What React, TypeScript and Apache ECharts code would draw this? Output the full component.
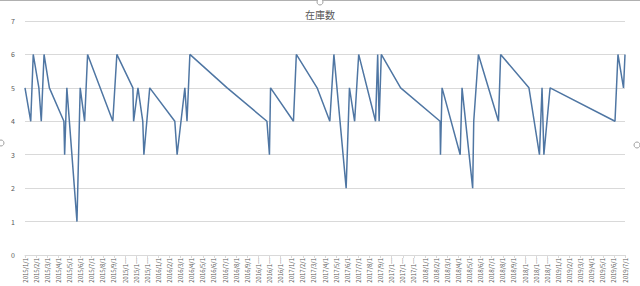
import React, { useEffect, useRef } from "react";
import * as echarts from "echarts";

const dates = [
  "2015/1/1", "2015/1/17", "2015/1/24", "2015/2/8", "2015/2/14", "2015/2/21",
  "2015/3/7", "2015/4/16", "2015/4/18", "2015/4/24", "2015/5/22", "2015/5/31",
  "2015/6/12", "2015/6/20", "2015/8/29", "2015/9/9", "2015/10/23", "2015/10/25",
  "2015/11/6", "2015/11/19", "2015/11/22", "2015/12/8", "2016/2/15", "2016/2/21",
  "2016/3/13", "2016/3/19", "2016/3/27", "2016/7/7", "2016/10/25", "2016/11/1",
  "2016/11/4", "2017/1/6", "2017/1/14", "2017/3/10", "2017/4/14", "2017/4/25",
  "2017/5/29", "2017/6/7", "2017/6/21", "2017/7/2", "2017/8/18", "2017/8/24",
  "2017/8/28", "2017/9/3", "2017/10/26", "2018/2/11", "2018/2/12", "2018/2/16",
  "2018/4/6", "2018/4/11", "2018/5/10", "2018/5/13", "2018/5/26", "2018/7/20",
  "2018/7/26", "2018/10/12", "2018/11/10", "2018/11/17", "2018/11/22", "2018/12/9",
  "2019/6/4", "2019/6/12", "2019/6/27", "2019/7/1",
];

const stock = [
  5, 4, 6, 5, 4, 6,
  5, 4, 3, 5, 1, 5,
  4, 6, 4, 6, 5, 4,
  5, 4, 3, 5, 4, 3,
  5, 4, 6, 5, 4, 3,
  5, 4, 6, 5, 4, 6,
  2, 5, 4, 6, 4, 6,
  4, 6, 5, 4, 3, 5,
  3, 5, 2, 4, 6, 4,
  6, 5, 3, 5, 3, 5,
  4, 6, 5, 6,
];

const startYear = 2015;
const monthCount = 55; // 2015/1 .. 2019/7
const tickLabels: string[] = [];
for (let i = 0; i < monthCount; i++) {
  tickLabels.push(`${startYear + Math.floor(i / 12)}/${(i % 12) + 1}/1`);
}

const yTicks = [0, 1, 2, 3, 4, 5, 6, 7];

function monthPos(d: string): number {
  const [y, m, day] = d.split("/").map(Number);
  const dim = new Date(y, m, 0).getDate();
  return (y - startYear) * 12 + (m - 1) + (day - 1) / dim;
}

export default function App() {
  const ref = useRef<HTMLDivElement>(null);
  useEffect(() => {
    if (!ref.current) return;
    const chart = echarts.init(ref.current, undefined, { renderer: "svg" });
    const font = "'Noto Sans CJK JP', 'Noto Sans', sans-serif";
    chart.setOption({
      animation: false,
      textStyle: { fontFamily: font },
      title: {
        text: "在庫数",
        left: "center",
        top: 4,
        textStyle: { fontSize: 10, fontWeight: "normal", color: "#595959", fontFamily: font },
      },
      grid: { left: 25, right: 15, top: 21, bottom: 23, containLabel: false },
      xAxis: {
        type: "value",
        min: 0,
        max: monthCount - 1,
        interval: 1,
        axisLine: { show: true, lineStyle: { color: "#d9d9d9" } },
        axisTick: { show: true, length: 3, lineStyle: { color: "#d9d9d9" } },
        splitLine: { show: false },
        axisLabel: {
          rotate: 90,
          fontSize: 6,
          color: "#595959",
          margin: 3,
          width: 28,
          overflow: "truncate",
          ellipsis: "…",
          formatter: (v: number) => tickLabels[Math.round(v)] ?? "",
        },
      },
      yAxis: {
        type: "value",
        min: yTicks[0],
        max: yTicks[yTicks.length - 1],
        interval: 1,
        axisLine: { show: false },
        axisTick: { show: false },
        splitLine: { lineStyle: { color: "#d9d9d9", width: 1 } },
        axisLabel: { fontSize: 7, color: "#595959", margin: 10 },
      },
      graphic: [
        { type: "line", shape: { x1: 0, y1: 0.5, x2: 640, y2: 0.5 }, style: { stroke: "#b0b0b0", lineWidth: 1 } },
        { type: "circle", shape: { cx: 320, cy: 2, r: 3 }, style: { fill: "#fff", stroke: "#a0a0a0", lineWidth: 1 } },
        { type: "circle", shape: { cx: 1, cy: 143, r: 3 }, style: { fill: "#fff", stroke: "#a0a0a0", lineWidth: 1 } },
        { type: "circle", shape: { cx: 637, cy: 145, r: 3 }, style: { fill: "#fff", stroke: "#a0a0a0", lineWidth: 1 } },
      ],
      series: [
        {
          type: "line",
          data: dates.map((d, i) => [monthPos(d), stock[i]]),
          showSymbol: false,
          symbol: "none",
          lineStyle: { color: "#4f76a3", width: 1.5 },
        },
      ],
    });
    return () => chart.dispose();
  }, []);
  return (
    <div
      ref={ref}
      style={{ position: "absolute", left: 0, top: 0, width: 640, height: 286, background: "#fff" }}
    />
  );
}
